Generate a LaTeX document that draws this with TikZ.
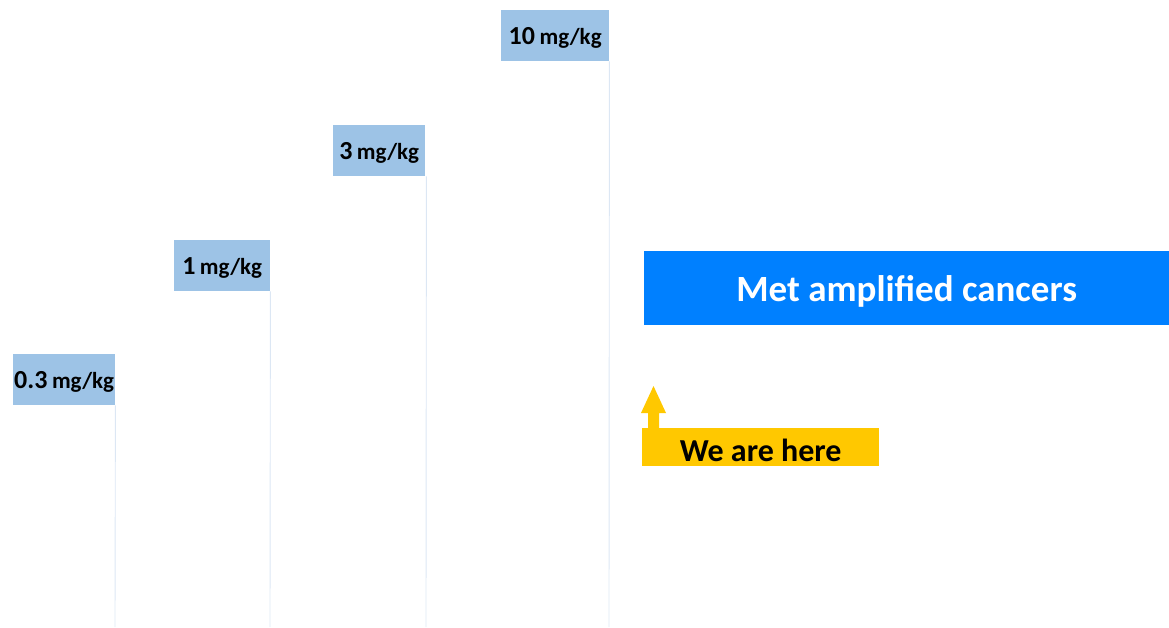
\documentclass[tikz,border=0pt]{standalone}
\usepackage{fontspec}
\setmainfont{Carlito}
\begin{document}
\begin{tikzpicture}[x=1pt,y=-1pt,
  dose/.style={fill=doseblue, inner sep=0pt, minimum height=51pt, font=\bfseries, text=black, text depth=0pt},
  guide/.style={draw=guideblue, line width=0.9pt},
]
\definecolor{doseblue}{HTML}{9DC3E6}
\definecolor{guideblue}{HTML}{DCE7F4}
\definecolor{metblue}{HTML}{0080FF}
\definecolor{here}{HTML}{FFC800}
\newcommand{\doselabel}[1]{{\fontsize{26}{28}\selectfont #1}\hspace{0.45em}{\fontsize{23}{26}\selectfont mg/kg}}
\useasboundingbox (0,0) rectangle (1169,627);

% dose levels
\node[dose, minimum width=102pt, anchor=north west] (d03) at (13,354) {\doselabel{0.3}};
\node[dose, minimum width=96pt, anchor=north west] (d1) at (174,240) {\doselabel{1}};
\node[dose, minimum width=92pt, anchor=north west] (d3) at (333,125) {\doselabel{3}};
\node[dose, minimum width=108pt, anchor=north west] (d10) at (501,10) {\doselabel{10}};

% guide lines down to the base
\coordinate (b03) at (115,627);
\coordinate (b1) at (270,627);
\coordinate (b3) at (426,627);
\coordinate (b10) at (609,627);
\draw[guide] (d03.south east) -- (b03);
\draw[guide] (d1.south east) -- (b1);
\draw[guide] ([xshift=1pt]d3.south east) -- (b3);
\draw[guide] (d10.south east) -- (b10);

% target population
\node[fill=metblue, text=white, anchor=north west, minimum width=525pt, minimum height=74pt,
  inner sep=0pt, text depth=0pt, font=\fontsize{37}{40}\selectfont\bfseries] (met) at (644,251) {Met amplified cancers};

% current position marker
\node[fill=here, anchor=north west, minimum width=237pt, minimum height=38pt, inner sep=0pt,
  font=\fontsize{32}{34}\selectfont\bfseries, text=black, text height=28pt, text depth=0pt] (we) at (642,428) {We are here};
\fill[here] ([xshift=6pt]we.north west) -- ++(0,-15) -- ++(-7,0) -- ++(12.5,-27) -- ++(12.5,27) -- ++(-7,0) -- ++(0,15) -- cycle;
\end{tikzpicture}
\end{document}
